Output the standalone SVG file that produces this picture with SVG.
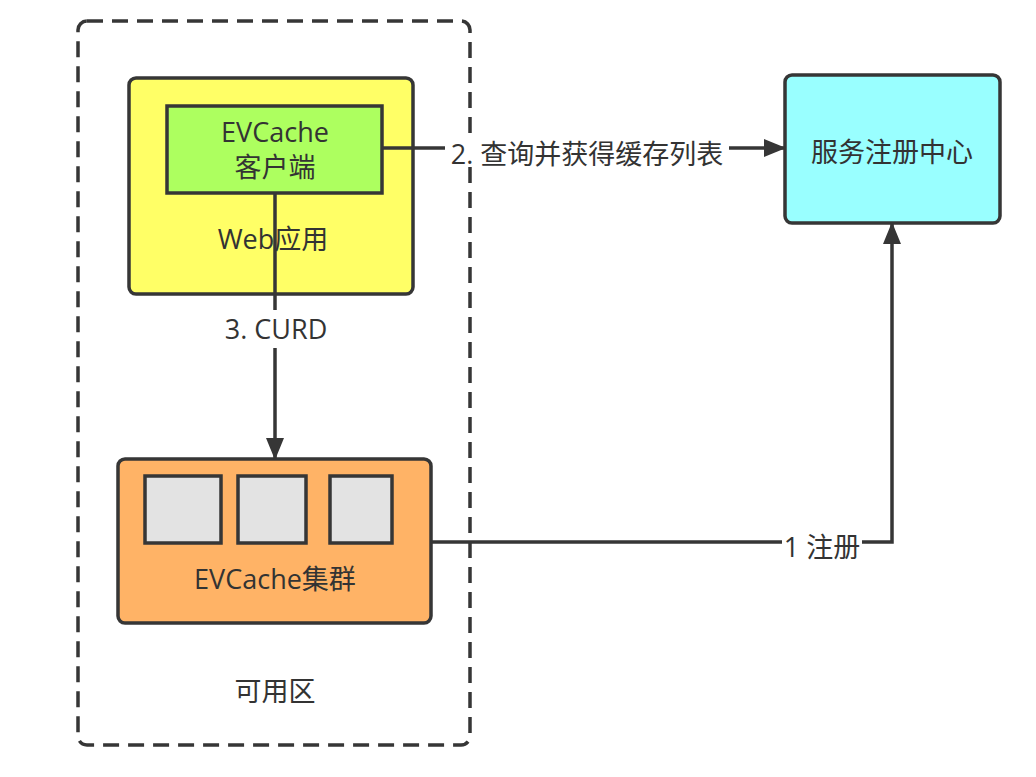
<svg xmlns="http://www.w3.org/2000/svg" width="1036" height="777" viewBox="0 0 1036 777">
<defs>
<style>
.t{font-family:"Open Sans","Noto Sans CJK SC",sans-serif;font-size:27px;fill:#333;text-anchor:middle;dominant-baseline:central}
.b{stroke:#363636;stroke-width:3.5}
.ln{stroke:#363636;stroke-width:3.5;fill:none}
.lb{fill:#fff}
</style>
<marker id="ah" viewBox="0 0 22 18" refX="21" refY="9" markerWidth="22" markerHeight="18" markerUnits="userSpaceOnUse" orient="auto">
<path d="M0,0 L22,9 L0,18 Z" fill="#363636"/>
</marker>
</defs>
<rect width="1036" height="777" fill="#fff"/>
<g id="zone">
<rect x="78" y="21" width="392" height="724" rx="9" fill="none" stroke="#363636" stroke-width="3.5" stroke-dasharray="16,9"/>
<text class="t" x="275" y="690">可用区</text>
</g>
<g id="webapp">
<rect class="b" x="129" y="78" width="284" height="216" rx="7" fill="#ffff66"/>
<text class="t" x="273" y="238">Web应用</text>
</g>
<g id="client">
<rect class="b" x="167" y="106" width="215" height="87" fill="#adff5f"/>
<text class="t" x="275" y="131">EVCache<tspan x="275" dy="35">客户端</tspan></text>
</g>
<g id="registry">
<rect class="b" x="785" y="75" width="215" height="148" rx="7" fill="#99ffff"/>
<text class="t" x="892" y="151">服务注册中心</text>
</g>
<g id="cluster">
<rect class="b" x="118" y="459" width="313" height="164" rx="7" fill="#ffb366"/>
<rect class="b" x="145" y="476" width="76" height="67" fill="#e3e3e3"/>
<rect class="b" x="238" y="476" width="68" height="67" fill="#e3e3e3"/>
<rect class="b" x="330" y="476" width="62" height="67" fill="#e3e3e3"/>
<text class="t" x="275" y="578">EVCache集群</text>
</g>
<g id="connectors">
<path class="ln" d="M382,148 L785,148" marker-end="url(#ah)"/>
<rect class="lb" x="445" y="134" width="284" height="30"/>
<text class="t" x="587" y="153">2. 查询并获得缓存列表</text>
<path class="ln" d="M275,193 L275,459" marker-end="url(#ah)"/>
<rect class="lb" x="220" y="310" width="112" height="38"/>
<text class="t" x="276" y="328">3. CURD</text>
<path class="ln" d="M431,542 L892,542 L892,223" marker-end="url(#ah)"/>
<rect class="lb" x="782" y="528" width="80" height="30"/>
<text class="t" x="822" y="546">1 注册</text>
</g>
</svg>
